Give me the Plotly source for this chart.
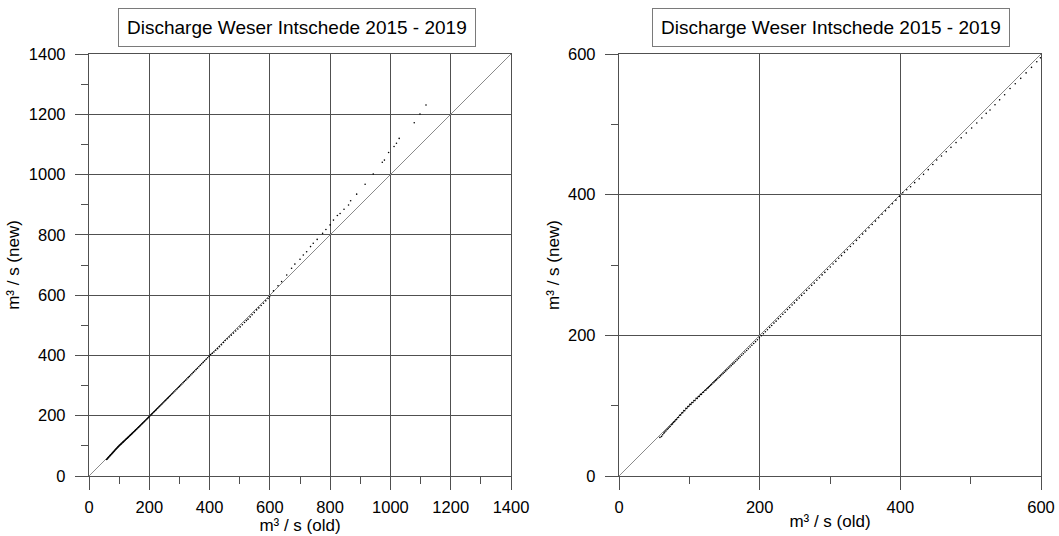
import plotly.graph_objects as go

# ---- data ----
old_low = [58.2, 60.5, 62.1, 63.8, 65.0, 66.7, 68.4, 69.9, 71.3, 72.8, 74.6, 76.0, 77.5, 79.2, 80.4,
           81.9, 83.3, 84.8, 86.1, 87.7, 89.0, 90.6, 92.2, 93.5, 95.1, 96.4, 97.8, 99.3, 100.7, 102.2,
           103.6, 105.1, 106.5, 108.0, 109.6, 111.2, 112.7, 114.1, 115.8, 117.3, 118.9, 120.4, 122.0,
           123.7, 125.2, 126.9, 128.5, 130.2, 131.8, 133.6, 135.3, 137.1, 138.8, 140.6, 142.5, 144.2,
           146.1, 148.0, 149.8, 151.7, 153.6, 155.6, 157.5, 159.5, 161.6, 163.6, 165.7, 167.9, 170.0,
           172.2, 174.5, 176.8, 179.1, 181.5, 183.9, 186.4, 188.9, 191.5, 194.1, 196.8, 199.5]
new_low = [54.9, 56.3, 58.6, 60.9, 62.4, 64.1, 66.2, 67.5, 69.4, 70.6, 72.9, 74.1, 76.2, 77.4, 79.6,
           80.3, 82.8, 83.5, 86.4, 86.9, 89.6, 90.1, 93.0, 92.8, 96.2, 95.9, 98.7, 99.0, 101.9, 101.8,
           104.5, 104.6, 107.3, 107.2, 110.4, 110.3, 113.1, 113.2, 116.0, 116.1, 118.7, 119.3, 121.6,
           122.4, 124.5, 125.6, 127.3, 128.9, 130.3, 132.4, 133.8, 135.6, 137.0, 138.9, 140.5, 142.3,
           144.0, 145.9, 147.6, 149.4, 151.3, 153.1, 155.0, 156.9, 159.0, 160.8, 162.9, 165.1, 167.2,
           169.4, 171.6, 173.9, 176.2, 178.5, 180.9, 183.4, 185.8, 188.4, 191.0, 193.7, 196.5]

old_mid = [202.4, 205.3, 208.1, 211.0, 214.2, 217.1, 220.3, 223.4, 226.6, 229.7, 232.9, 236.2, 239.5,
           242.7, 246.1, 249.4, 252.8, 256.3, 259.7, 263.2, 266.8, 270.3, 274.0, 277.6, 281.3, 285.1,
           288.8, 292.7, 296.5, 300.4, 304.4, 308.3, 312.4, 316.4, 320.6, 324.7, 329.0, 333.2, 337.6,
           341.9, 346.4, 350.8, 355.4, 360.0, 364.6, 369.3, 374.1, 378.9, 383.8, 388.7, 393.7, 398.8]
new_mid = [199.5, 202.2, 205.2, 207.9, 211.3, 214.0, 217.4, 220.2, 223.7, 226.5, 230.0, 232.9, 236.6,
           239.4, 243.2, 246.1, 250.0, 253.0, 256.8, 259.9, 263.9, 267.0, 271.1, 274.3, 278.4, 281.9,
           285.9, 289.5, 293.6, 297.2, 301.5, 305.1, 309.6, 313.3, 317.9, 321.7, 326.3, 330.3, 335.0,
           339.1, 343.9, 348.2, 353.0, 357.6, 362.4, 367.2, 372.1, 377.0, 382.0, 387.1, 392.2, 397.6]

old_upper = [403.5, 409.1, 414.6, 420.4, 426.8, 433.0, 439.7, 446.2, 451.7, 458.5, 465.3, 472.0, 479.2,
             486.5, 493.8, 501.4, 508.7, 515.9, 522.1, 527.5, 534.6, 541.2, 548.3, 556.0, 563.4, 571.2,
             578.8, 586.5, 594.0, 599.2]
new_upper = [402.8, 407.0, 411.3, 417.1, 422.5, 428.9, 435.6, 442.9, 449.3, 455.0, 461.1, 467.3, 474.0,
             480.8, 487.6, 494.7, 501.9, 509.0, 515.6, 520.4, 527.9, 534.8, 542.1, 551.0, 557.6, 565.4,
             573.1, 581.0, 589.0, 594.6]

old_high = [612, 627, 639, 656, 672, 683, 700, 711, 722, 735, 744, 757, 775, 786, 800, 811, 824, 833,
            846, 861, 868, 888, 916, 943, 973, 980, 994, 1012, 1020, 1029, 1079, 1098, 1118]
new_high = [614, 631, 645, 667, 689, 703, 719, 733, 744, 761, 772, 785, 805, 818, 833, 849, 864, 871,
            885, 899, 913, 935, 968, 1002, 1041, 1048, 1073, 1093, 1104, 1120, 1172, 1201, 1231]

old_all = old_low + old_mid + old_upper + old_high
new_all = new_low + new_mid + new_upper + new_high

title_text = "Discharge Weser Intschede 2015 - 2019"
x_title = "m³ / s (old)"
y_title = "m³ / s (new)"
left_max = 1400
right_max = 600

# ---- figure ----
W, H = 1059, 536
FONT = "Liberation Sans, Arial, sans-serif"
GRID = "#505050"

fig = go.Figure()

# 1:1 reference lines
fig.add_trace(go.Scatter(x=[0, left_max], y=[0, left_max], mode="lines",
                         line=dict(color="#8a8a8a", width=1), xaxis="x", yaxis="y",
                         hoverinfo="skip", showlegend=False))
fig.add_trace(go.Scatter(x=[0, right_max], y=[0, right_max], mode="lines",
                         line=dict(color="#8a8a8a", width=1), xaxis="x2", yaxis="y2",
                         hoverinfo="skip", showlegend=False))
# data points
fig.add_trace(go.Scatter(x=old_all, y=new_all, mode="markers",
                         marker=dict(color="black", size=1.6, line=dict(width=0)),
                         xaxis="x", yaxis="y", showlegend=False))
fig.add_trace(go.Scatter(x=old_all, y=new_all, mode="markers",
                         marker=dict(color="black", size=1.6, line=dict(width=0)),
                         xaxis="x2", yaxis="y2", showlegend=False))


def ax(rng, dom, title, anchor, standoff, lblstand):
    return dict(
        range=rng, domain=dom, anchor=anchor, autorange=False,
        tickmode="linear", tick0=0, dtick=200,
        ticks="outside", ticklen=13, tickwidth=1.3, tickcolor=GRID,
        ticklabelstandoff=lblstand,
        minor=dict(dtick=100, tick0=0, ticks="outside", ticklen=7, tickwidth=1.3,
                   tickcolor=GRID, showgrid=False),
        showgrid=True, gridcolor=GRID, gridwidth=1.3,
        showline=True, linecolor=GRID, linewidth=1.3, mirror=True,
        zeroline=False,
        tickfont=dict(size=16.5, color="black", family=FONT),
        title=dict(text=title, font=dict(size=17, color="black", family=FONT), standoff=standoff),
        automargin=False, fixedrange=True,
    )


xl = [89 / W, 511 / W]
xr = [619 / W, 1041 / W]
yd = [60 / H, 482 / H]

fig.update_layout(
    width=W, height=H,
    margin=dict(l=0, r=0, t=0, b=0),
    paper_bgcolor="white", plot_bgcolor="white",
    font=dict(family=FONT, color="black"),
    showlegend=False,
    xaxis=ax([0, left_max], xl, x_title, "y", 0, 3),
    yaxis=ax([0, left_max], yd, y_title, "x", 4, 6),
    xaxis2=ax([0, right_max], xr, x_title, "y2", 0, 3),
    yaxis2=ax([0, right_max], yd, y_title, "x2", 4, 6),
    annotations=[
        dict(text=title_text, x=297 / W, y=1 - 27.5 / H, xref="paper", yref="paper",
             xanchor="center", yanchor="middle", showarrow=False,
             font=dict(size=19, color="black", family=FONT),
             bordercolor="#7a7a7a", borderwidth=1, borderpad=8, bgcolor="white"),
        dict(text=title_text, x=831 / W, y=1 - 27.5 / H, xref="paper", yref="paper",
             xanchor="center", yanchor="middle", showarrow=False,
             font=dict(size=19, color="black", family=FONT),
             bordercolor="#7a7a7a", borderwidth=1, borderpad=8, bgcolor="white"),
    ],
)

fig.write_html("out.html", config={"displayModeBar": False},
               post_script="document.body.style.margin='0';")
